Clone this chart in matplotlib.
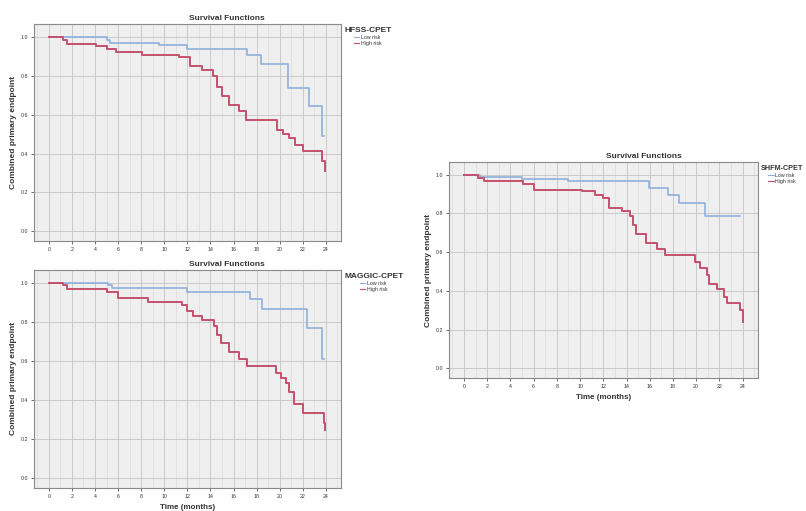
import matplotlib
matplotlib.use("Agg")
import matplotlib.pyplot as plt
from matplotlib.lines import Line2D
from matplotlib.ticker import MultipleLocator

plt.rcParams["font.family"] = ["Liberation Sans", "DejaVu Sans"]

# step points (time in months, survival)
hfss_low_t = [0, 5.0, 5.3, 9.5, 12.0, 17.2, 18.4, 20.7, 22.5, 23.7, 23.8]
hfss_low_s = [1.0, 0.985, 0.97, 0.958, 0.937, 0.908, 0.86, 0.737, 0.646, 0.489, 0.489]
hfss_high_t = [0, 1.2, 1.6, 4.1, 5.0, 5.8, 8.1, 11.3, 12.2, 13.3, 14.2, 14.6, 15.0,
               15.6, 16.5, 17.1, 19.8, 20.3, 20.8, 21.3, 22.0, 23.7, 23.9]
hfss_high_s = [1.0, 0.985, 0.964, 0.95, 0.937, 0.92, 0.908, 0.895, 0.848, 0.831, 0.797,
               0.74, 0.694, 0.651, 0.617, 0.574, 0.523, 0.50, 0.48, 0.446, 0.412, 0.36, 0.309]

maggic_low_t = [0, 5.1, 5.5, 12.0, 17.4, 18.5, 22.4, 23.7, 23.8]
maggic_low_s = [1.0, 0.985, 0.974, 0.954, 0.915, 0.867, 0.769, 0.607, 0.607]
maggic_high_t = [0, 1.2, 1.6, 5.0, 6.0, 8.6, 11.5, 12.0, 12.5, 13.3, 14.3, 14.6, 14.9,
                 15.6, 16.5, 17.2, 19.7, 20.1, 20.5, 20.8, 21.2, 22.0, 23.8, 23.9]
maggic_high_s = [1.0, 0.985, 0.966, 0.95, 0.923, 0.90, 0.885, 0.855, 0.829, 0.81, 0.778,
                 0.73, 0.692, 0.645, 0.607, 0.573, 0.538, 0.51, 0.487, 0.44, 0.378, 0.333,
                 0.28, 0.248]

shfm_low_t = [0, 1.4, 5.0, 9.0, 15.9, 17.6, 18.5, 20.8, 23.8]
shfm_low_s = [1.0, 0.985, 0.975, 0.966, 0.931, 0.897, 0.854, 0.786, 0.786]
shfm_high_t = [0, 1.2, 1.7, 5.1, 6.0, 10.2, 11.3, 12.0, 12.5, 13.6, 14.3, 14.6, 14.8,
               15.7, 16.6, 17.3, 19.9, 20.3, 20.9, 21.1, 21.8, 22.4, 22.7, 23.8, 24.0]
shfm_high_s = [1.0, 0.983, 0.966, 0.949, 0.923, 0.915, 0.897, 0.88, 0.829, 0.812, 0.786,
               0.74, 0.692, 0.646, 0.615, 0.585, 0.55, 0.52, 0.48, 0.436, 0.41, 0.37,
               0.34, 0.30, 0.239]

x_ticks = list(range(0, 25, 2))
y_ticks = [0.0, 0.2, 0.4, 0.6, 0.8, 1.0]
series_labels = ["Low risk", "High risk"]

low_color = "#8fb0dc"
high_color = "#c4506e"
text_color = "#333333"

fig = plt.figure(figsize=(8.06, 5.11), dpi=100)

# rect, legend title, curves, show x label, legend title size
panels = [
    ([0.042, 0.528, 0.381, 0.425], "HFSS-CPET", hfss_low_t, hfss_low_s, hfss_high_t, hfss_high_s, False, 6),
    ([0.042, 0.045, 0.381, 0.427], "MAGGIC-CPET", maggic_low_t, maggic_low_s, maggic_high_t, maggic_high_s, True, 6),
    ([0.557, 0.260, 0.383, 0.423], "SHFM-CPET", shfm_low_t, shfm_low_s, shfm_high_t, shfm_high_s, True, 5.2),
]

for rect, name, lt, ls, ht, hs, show_xlabel, title_size in panels:
    ax = fig.add_axes(rect)
    ax.set_facecolor("#efefef")
    ax.step(lt, ls, where="post", color=low_color, lw=1.2)
    ax.step(ht, hs, where="post", color=high_color, lw=1.4)

    ax.set_xlim(-1.3, 25.3)
    ax.set_ylim(-0.05, 1.065)
    ax.set_xticks(x_ticks)
    ax.set_xticklabels([str(t) for t in x_ticks])
    ax.set_yticks(y_ticks)
    ax.set_yticklabels([f"{v:.1f}" for v in y_ticks])
    ax.xaxis.set_minor_locator(MultipleLocator(1))
    ax.tick_params(labelsize=3.8, colors=text_color, length=2, width=0.5, pad=2)
    ax.tick_params(which="minor", length=0)

    ax.grid(True, which="major", color="#c4c4c4", lw=0.6)
    ax.grid(True, which="minor", axis="x", color="#d6d6d6", lw=0.4)
    ax.set_axisbelow(True)
    for sp in ax.spines.values():
        sp.set_color("#8a8a8a")
        sp.set_linewidth(0.8)

    ax.text(0.63, 1.01, "Survival Functions", transform=ax.transAxes, ha="center",
            va="bottom", fontsize=6, fontweight="bold", color=text_color)
    ax.set_ylabel("Combined primary endpoint", fontsize=6, fontweight="bold",
                  color=text_color, labelpad=3)
    if show_xlabel:
        ax.set_xlabel("Time (months)", fontsize=5.8, fontweight="bold",
                      color=text_color, labelpad=4)

    handles = [Line2D([0], [0], color=low_color, lw=0.8),
               Line2D([0], [0], color=high_color, lw=0.8)]
    leg = ax.legend(handles, series_labels, title=name, loc="upper left",
                    bbox_to_anchor=(1.0, 1.0), frameon=False, fontsize=3.8,
                    handlelength=1.0, handletextpad=0.3, labelspacing=0.2,
                    borderaxespad=0.2)
    leg.get_title().set_fontsize(title_size)
    leg.get_title().set_fontweight("bold")
    leg.get_title().set_color(text_color)
    for t in leg.get_texts():
        t.set_color(text_color)

fig.savefig("out.png", dpi=100)
